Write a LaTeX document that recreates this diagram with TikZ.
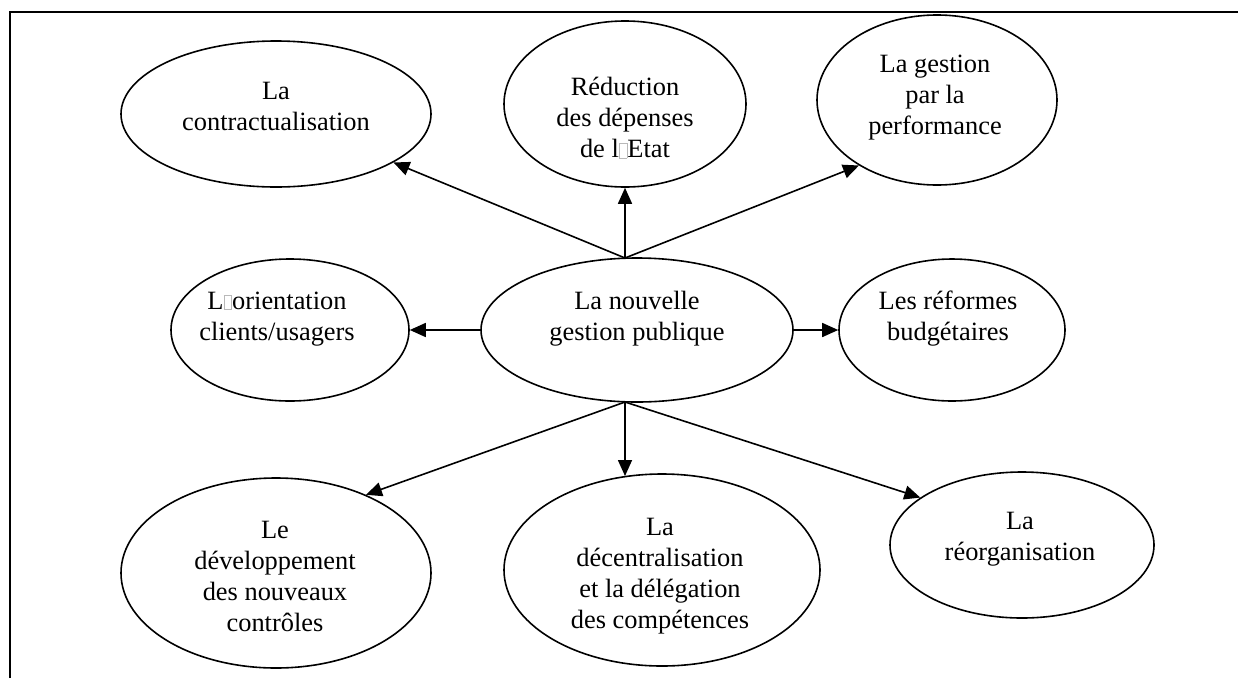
\documentclass[tikz,border=0pt]{standalone}
\usepackage{fontspec}
\setmainfont{Liberation Serif}
\usetikzlibrary{shapes.geometric,arrows.meta}
\newcommand{\nbox}{{\color{gray!55}\setlength{\fboxsep}{0pt}\setlength{\fboxrule}{0.8pt}\fbox{\rule{0pt}{14pt}\hspace{7pt}}}}
\tikzset{
  ell/.style={ellipse, draw=black, line width=1.6pt, inner sep=0pt},
  txt/.style={font=\fontsize{26.4}{31}\selectfont, align=center, inner sep=0pt},
  arr/.style={line width=1.6pt, -{Triangle[length=16pt,width=14pt]}},
  frame/.style={line width=2pt}
}
\begin{document}
\begin{tikzpicture}[x=1pt,y=-1pt]
\useasboundingbox (0,0) rectangle (1238,678);
\coordinate (fa) at (10,678);
\coordinate (fb) at (10,12);
\coordinate (fc) at (1238,12);
\draw[frame] (fa) -- (fb) -- (fc);

% ellipses
\node[ell, minimum width=310pt, minimum height=146pt] (contr) at (276,114) {};
\node[ell, minimum width=242pt, minimum height=166pt] (reduc) at (625,104) {};
\node[ell, minimum width=240pt, minimum height=170pt] (gest) at (937,100) {};
\node[ell, minimum width=238pt, minimum height=142pt] (orient) at (290,330) {};
\node[ell, minimum width=312pt, minimum height=144pt] (central) at (637,330) {};
\node[ell, minimum width=226pt, minimum height=142pt] (reform) at (952,330) {};
\node[ell, minimum width=310pt, minimum height=190pt] (devel) at (276,573) {};
\node[ell, minimum width=316pt, minimum height=192pt] (decent) at (662,570) {};
\node[ell, minimum width=264pt, minimum height=146pt] (reorg) at (1022,545) {};

% texts
\node[txt] (contrT) at (276,106) {La\\contractualisation};
\node[txt] (reducT) at (625,118) {Réduction\\des dépenses\\de l\nbox Etat};
\node[txt] (gestT) at (935,98) {La gestion\\par la\\performance};
\node[txt] (orientT) at (277,319) {L\nbox orientation\\clients/usagers};
\node[txt] (centralT) at (637,319) {La nouvelle\\gestion publique};
\node[txt] (reformT) at (948,319) {Les réformes\\budgétaires};
\node[txt] (develT) at (275,576) {Le\\développement\\des nouveaux\\contrôles};
\node[txt] (decentT) at (660,576) {La\\décentralisation\\et la délégation\\des compétences};
\node[txt] (reorgT) at (1020,539) {La\\réorganisation};

% connectors
\coordinate (top) at (625,258);
\coordinate (bot) at (625,402);
\draw[arr] (top) -- (contr);
\draw[arr] (top) -- (reduc.south);
\draw[arr] (top) -- (gest.220);
\draw[arr] (central.west) -- (orient.east);
\draw[arr] (central.east) -- (reform.west);
\draw[arr] (bot) -- (devel.41);
\draw[arr] (bot) -- (bot |- decent.112);
\draw[arr] (bot) -- (reorg.155);
\end{tikzpicture}
\end{document}
